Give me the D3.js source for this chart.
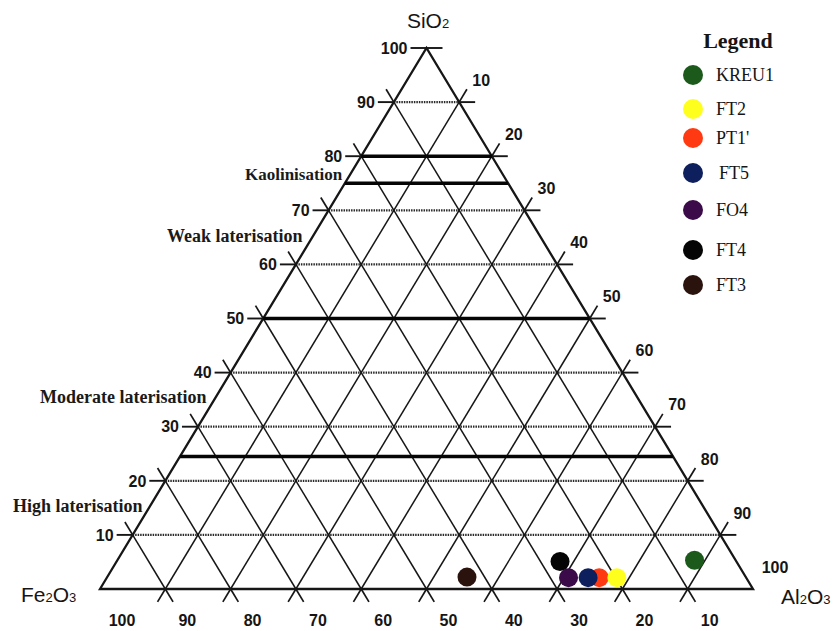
<!DOCTYPE html>
<html>
<head>
<meta charset="utf-8">
<script src="https://cdn.jsdelivr.net/npm/d3@7/dist/d3.min.js"></script>
<style>
  body { margin: 0; background: #fff; }
  svg { display: block; }
</style>
</head>
<body>
<div id="chart"></div>
<script>
// Samples (wt %)
const SAMPLES = ['KREU1', 'FT2', "PT1'", 'FT5', 'FO4', 'FT4', 'FT3'];
const SIO2    = [5.3, 2.1, 2.1, 2.1, 2.1, 5.1, 2.2];
const AL2O3   = [88.4, 78.1, 75.4, 73.7, 70.7, 67.9, 55.1];
const FE2O3   = [6.3, 19.8, 22.5, 24.2, 27.2, 27.0, 42.7];
const COLORS  = ['#1c5a1c', '#ffff1e', '#ff3a12', '#0e1f5e', '#3a0b48', '#050505', '#2a130d'];
// points are painted in this order (later ones on top)
const DRAW_ORDER = ['FT4', "PT1'", 'FO4', 'FT5', 'FT2', 'KREU1', 'FT3'];

const TICKS = [10, 20, 30, 40, 50, 60, 70, 80, 90];
const ZONES = ['Kaolinisation', 'Weak laterisation', 'Moderate laterisation', 'High laterisation'];
const ZONE_LIMITS = [80, 75, 50, 24.5];   // SiO2 levels of the thick boundary lines

const W = 835, H = 631;
const svg = d3.select('#chart').append('svg').attr('width', W).attr('height', H);

// x along the base (Al2O3 + SiO2/2), y by SiO2
const xs = d3.scaleLinear().domain([0, 100]).range([100, 753]);
const ys = d3.scaleLinear().domain([0, 100]).range([589, 48]);
const proj = (si, al) => [xs(al + si / 2), ys(si)];

const INK = '#161616';
const TICK_LEN = 15;

function seg(g, a, b, w, dash) {
  const l = g.append('line')
    .attr('x1', a[0]).attr('y1', a[1]).attr('x2', b[0]).attr('y2', b[1])
    .attr('stroke', INK).attr('stroke-width', w);
  if (dash) l.attr('stroke-dasharray', dash);
  return l;
}
// extend segment from -> to, beyond "to" by len pixels
function beyond(from, to, len) {
  const dx = to[0] - from[0], dy = to[1] - from[1];
  const d = Math.hypot(dx, dy) || 1;
  return [to[0] + dx / d * len, to[1] + dy / d * len];
}

const grid = svg.append('g');

// horizontal SiO2 lines (dotted)
TICKS.forEach(t => {
  seg(grid, proj(t, 0), proj(t, 100 - t), 2.2, '1.5,1').attr('stroke', '#2a2a2a');
});
// Al2O3-constant lines (parallel to left edge)
TICKS.forEach(a => seg(grid, proj(0, a), proj(100 - a, a), 1.5));
// Fe2O3-constant lines (parallel to right edge)
TICKS.forEach(f => seg(grid, proj(0, 100 - f), proj(100 - f, 0), 1.5));

// ticks
const ticks = svg.append('g');
const LEVELS = TICKS.concat([100]);
LEVELS.forEach(t => {
  // left edge (SiO2)
  const pl = proj(t, 0);
  seg(ticks, pl, [pl[0] - 16, pl[1]], 1.9);
  if (t < 100) {
    seg(ticks, pl, beyond(proj(0, t), pl, TICK_LEN), 1.7);
    // horizontal extension past the right edge
    const pr = proj(t, 100 - t);
    seg(ticks, pr, [pr[0] + 16, pr[1]], 1.9);
  } else {
    seg(ticks, pl, [pl[0] + 16, pl[1]], 1.9);
  }
  // right edge (Al2O3)
  const pa = proj(100 - t, t);
  seg(ticks, pa, beyond(proj(0, t), pa, TICK_LEN), 1.7);
  // bottom edge (Fe2O3)
  const pb = proj(0, 100 - t);
  seg(ticks, pb, beyond(proj(100 - t, 0), pb, TICK_LEN), 1.7);
  if (t < 100) seg(ticks, pb, beyond(proj(t, 100 - t), pb, TICK_LEN), 1.7);
});

// triangle outline
const corners = [proj(0, 0), proj(0, 100), proj(100, 0)];
svg.append('path')
  .attr('d', d3.line()(corners) + 'Z')
  .attr('fill', 'none').attr('stroke', INK).attr('stroke-width', 2.3)
  .attr('stroke-linejoin', 'miter');

// zone boundaries
ZONE_LIMITS.forEach(z => seg(svg, proj(z, 0), proj(z, 100 - z), 3.6).attr('stroke', '#050505'));

// tick labels
const lab = svg.append('g')
  .attr('font-family', '"Liberation Sans", Arial, sans-serif')
  .attr('font-size', 16).attr('font-weight', 'bold').attr('fill', '#151515');
LEVELS.forEach(t => {
  const pl = proj(t, 0);
  lab.append('text').attr('x', pl[0] - 19).attr('y', pl[1]).attr('dy', '0.36em')
    .attr('text-anchor', 'end').text(t);
  const pa = proj(100 - t, t);
  lab.append('text').attr('x', pa[0] + 22).attr('y', pa[1] - 22).attr('dy', '0.36em')
    .attr('text-anchor', 'middle').text(t);
  const pb = proj(0, 100 - t);
  lab.append('text').attr('x', pb[0] + 22).attr('y', 620).attr('dy', '0.36em')
    .attr('text-anchor', 'middle').text(t);
});

// axis titles with subscripts
function chem(x, y, anchor, parts) {
  const t = svg.append('text').attr('x', x).attr('y', y).attr('text-anchor', anchor)
    .attr('font-family', '"Liberation Sans", Arial, sans-serif').attr('font-size', 21).attr('fill', '#151515');
  parts.forEach(p => {
    const s = t.append('tspan').text(p.replace('_', ''));
    if (p.startsWith('_')) s.attr('font-size', 13);
  });
}
chem(428, 28, 'middle', ['SiO', '_2']);
chem(21, 602, 'start', ['Fe', '_2', 'O', '_3']);
chem(781, 604, 'start', ['Al', '_2', 'O', '_3']);

// zone names
const zonePos = [[245, 180], [167, 242], [40, 403], [13, 512]];
svg.append('g')
  .attr('font-family', '"Liberation Serif", "Times New Roman", serif')
  .attr('font-weight', 'bold').attr('fill', '#1a1a1a')
  .selectAll('text').data(ZONES).join('text')
  .attr('x', (d, i) => zonePos[i][0]).attr('y', (d, i) => zonePos[i][1])
  .attr('font-size', (d, i) => i === 0 ? 17 : 18)
  .text(d => d);

// sample points
const pts = DRAW_ORDER.map(name => {
  const i = SAMPLES.indexOf(name);
  const sum = SIO2[i] + AL2O3[i] + FE2O3[i];
  return { name, si: SIO2[i] / sum * 100, al: AL2O3[i] / sum * 100, color: COLORS[i] };
});
svg.append('g').selectAll('circle').data(pts).join('circle')
  .attr('cx', d => proj(d.si, d.al)[0])
  .attr('cy', d => proj(d.si, d.al)[1])
  .attr('r', 9.5)
  .attr('fill', d => d.color);

// legend (row positions as laid out in the figure)
const legendRows = [75, 109, 138, 173, 210, 250, 285];
const leg = svg.append('g')
  .attr('font-family', '"Liberation Serif", "Times New Roman", serif').attr('fill', '#151515');
leg.append('text').attr('x', 738).attr('y', 48).attr('text-anchor', 'middle')
  .attr('font-size', 22).attr('font-weight', 'bold').text('Legend');
SAMPLES.forEach((s, i) => {
  leg.append('circle').attr('cx', 693).attr('cy', legendRows[i]).attr('r', 10).attr('fill', COLORS[i]);
  leg.append('text').attr('x', s === 'FT5' ? 719 : 716).attr('y', legendRows[i]).attr('dy', '0.35em')
    .attr('font-size', 18).text(s);
});
</script>
</body>
</html>
